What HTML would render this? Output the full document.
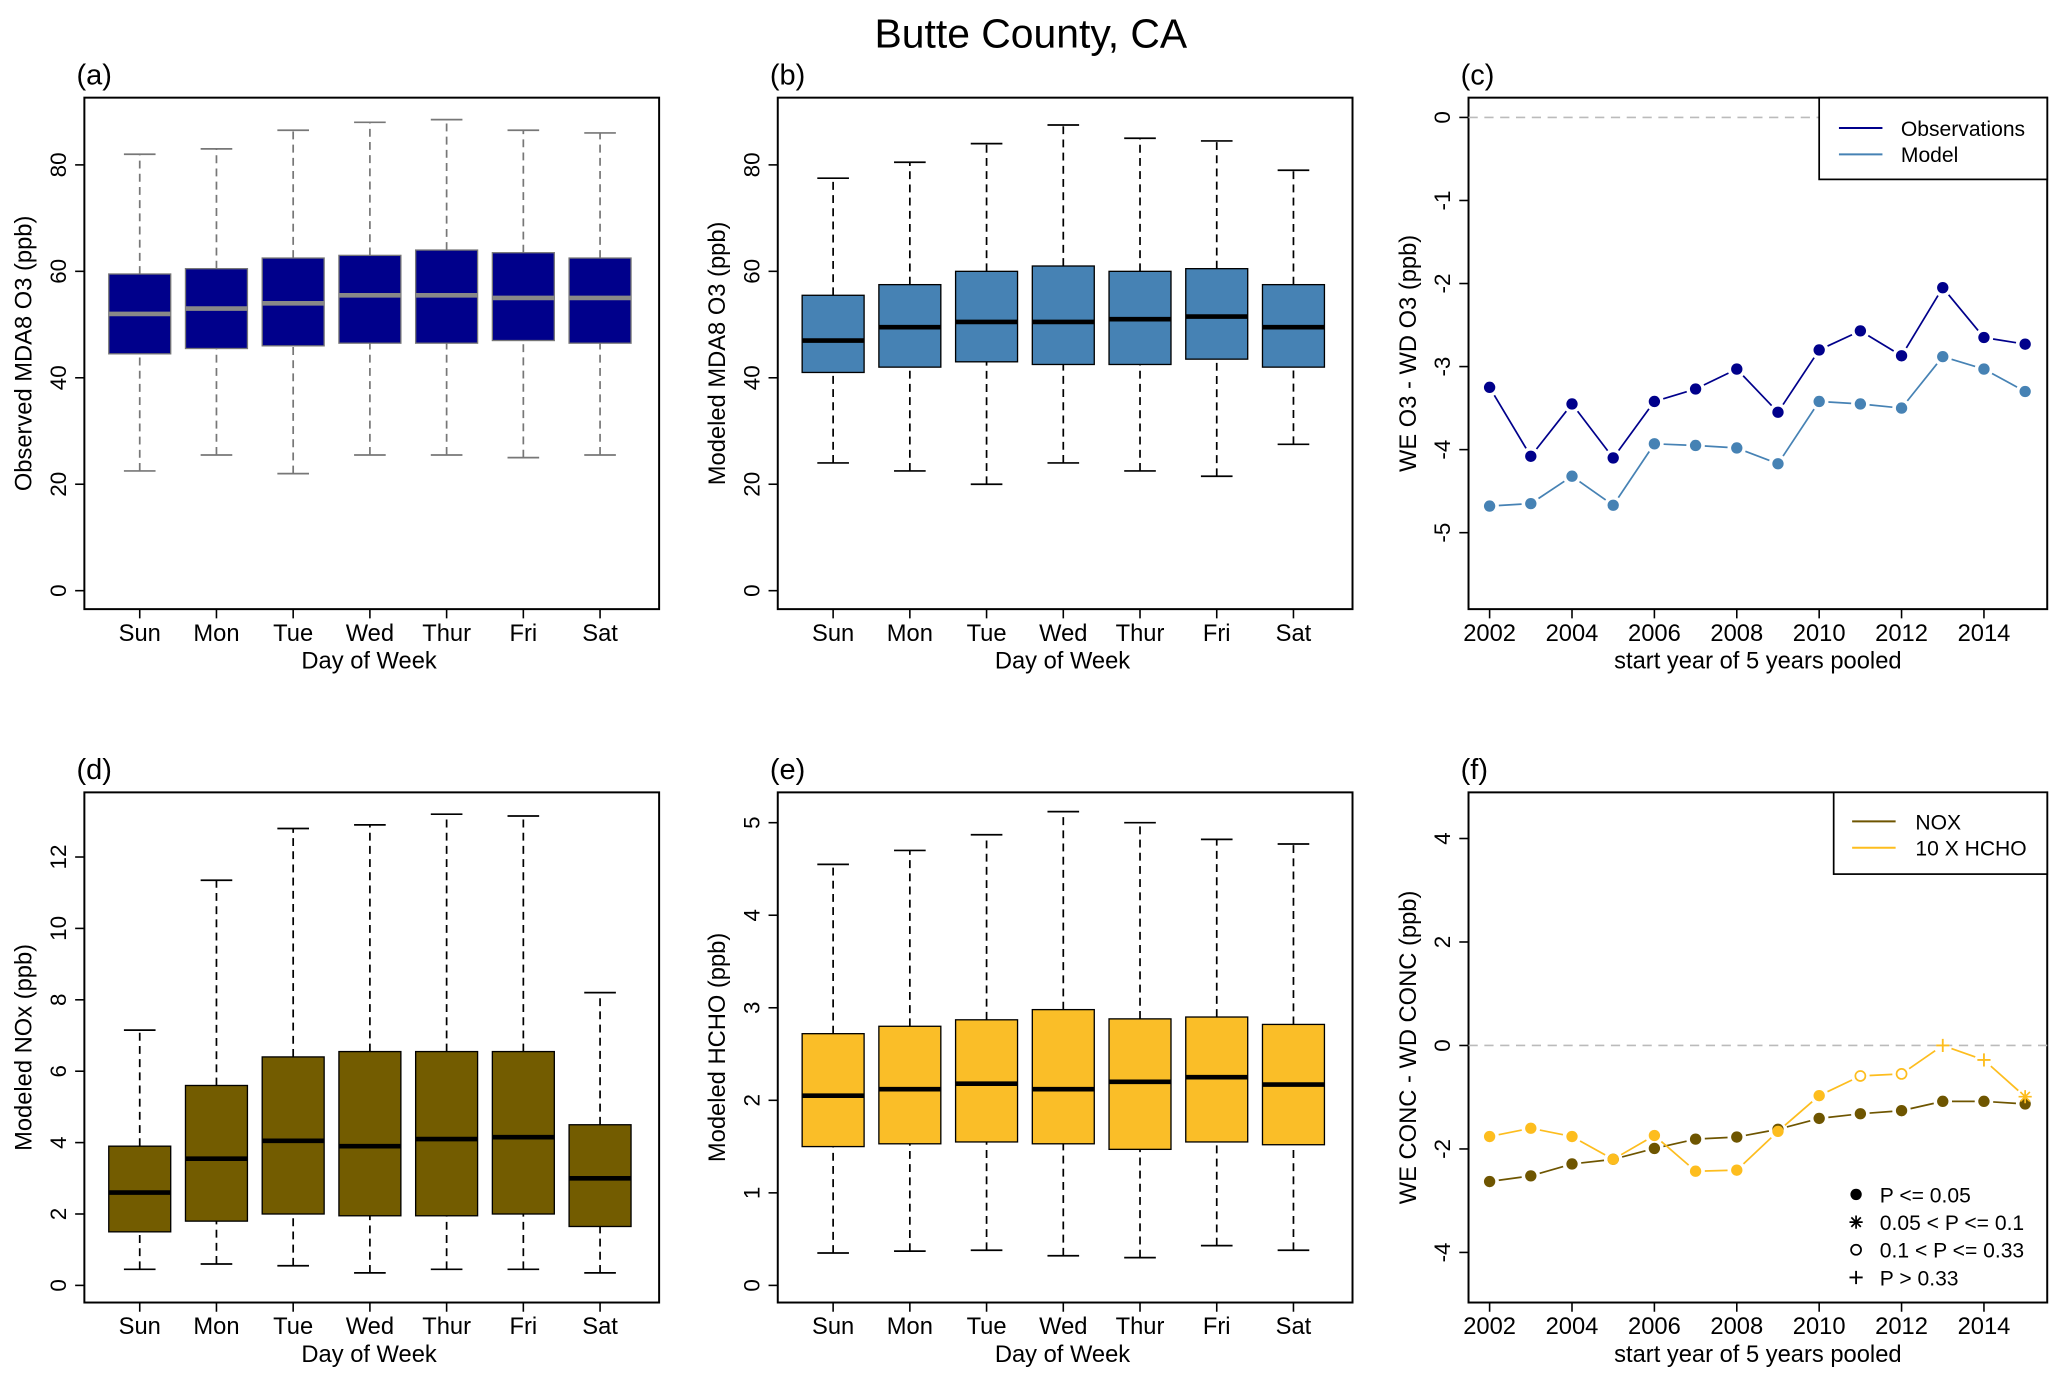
<!DOCTYPE html>
<html><head><meta charset="utf-8"><style>
html,body{margin:0;padding:0;background:#fff}
svg{display:block}
text{font-family:"Liberation Sans",Arial,sans-serif;fill:#000}
</style></head><body>
<svg id="fig" width="2067" height="1387" viewBox="0 0 1568 1052" xmlns="http://www.w3.org/2000/svg">
<text x="782" y="36" font-size="31" text-anchor="middle">Butte County, CA</text>
</svg>
<script>
const days = ["Sun","Mon","Tue","Wed","Thur","Fri","Sat"];
// [lo, q1, median, q3, hi]
const obsO3 = [[22.5,44.5,52,59.5,82],[25.5,45.5,53,60.5,83],[22,46,54,62.5,86.5],[25.5,46.5,55.5,63,88],[25.5,46.5,55.5,64,88.5],[25,47,55,63.5,86.5],[25.5,46.5,55,62.5,86]];
const modO3 = [[24,41,47,55.5,77.5],[22.5,42,49.5,57.5,80.5],[20,43,50.5,60,84],[24,42.5,50.5,61,87.5],[22.5,42.5,51,60,85],[21.5,43.5,51.5,60.5,84.5],[27.5,42,49.5,57.5,79]];
const modNOx = [[0.45,1.5,2.6,3.9,7.15],[0.6,1.8,3.55,5.6,11.35],[0.55,2.0,4.05,6.4,12.8],[0.35,1.95,3.9,6.55,12.9],[0.45,1.95,4.1,6.55,13.2],[0.45,2.0,4.15,6.55,13.15],[0.35,1.65,3.0,4.5,8.2]];
const modHCHO = [[0.35,1.5,2.05,2.72,4.55],[0.37,1.53,2.12,2.8,4.7],[0.38,1.55,2.18,2.87,4.87],[0.32,1.53,2.12,2.98,5.12],[0.3,1.47,2.2,2.88,5.0],[0.43,1.55,2.25,2.9,4.82],[0.38,1.52,2.17,2.82,4.77]];
const years = [2002,2003,2004,2005,2006,2007,2008,2009,2010,2011,2012,2013,2014,2015];
const obsDiff = [-3.25,-4.08,-3.45,-4.1,-3.42,-3.27,-3.03,-3.55,-2.8,-2.57,-2.87,-2.05,-2.65,-2.73];
const modelDiff = [-4.68,-4.65,-4.32,-4.67,-3.93,-3.95,-3.98,-4.17,-3.42,-3.45,-3.5,-2.88,-3.03,-3.3];
const noxDiff = [-2.63,-2.52,-2.29,-2.2,-1.99,-1.81,-1.77,-1.62,-1.41,-1.32,-1.26,-1.08,-1.08,-1.13];
const hchoDiff = [-1.76,-1.6,-1.76,-2.2,-1.74,-2.43,-2.41,-1.66,-0.97,-0.59,-0.55,0,-0.28,-0.99];
const hchoSig = ["p","p","p","p","p","p","p","p","p","o","o","+","+","*"];
const noxSig = ["p","p","p","p","p","p","p","p","p","p","p","p","p","p"];
const o3Ticks = [0,20,40,60,80];
const noxTicks = [0,2,4,6,8,10,12];
const hchoTicks = [0,1,2,3,4,5];
const cTicks = [0,-1,-2,-3,-4,-5];
const fTicks = [-4,-2,0,2,4];
const yearTicks = [2002,2004,2006,2008,2010,2012,2014];

const svg = document.getElementById('fig');
const NS = 'http://www.w3.org/2000/svg';
function mk(tag, attrs, parent){const e=document.createElementNS(NS,tag);for(const k in attrs)e.setAttribute(k,attrs[k]);(parent||svg).appendChild(e);return e;}
function txt(s, attrs, parent){const e=mk('text',attrs,parent);e.textContent=s;return e;}

function frame(x0,y0,x1,y1,label,name){
  const g=mk('g',{});
  
  
  const r=mk('rect',{x:x0,y:y0,width:x1-x0,height:y1-y0,fill:'none',stroke:'#000','stroke-width':1.5},g);
  
  
  const t=txt(label,{x:x0-6,y:y0-10,'font-size':22},g);
  
  
  return g;
}
function yAxis(g,x0,ticks,ys,title,titleX,midY){
  ticks.forEach(v=>{
    const y=ys(v);
    mk('line',{x1:x0,x2:x0-7,y1:y,y2:y,stroke:'#000','stroke-width':1.2},g);
    const t=txt(String(v).replace('-','-'),{x:x0-14,y:y,'font-size':17,'text-anchor':'middle',transform:`rotate(-90 ${x0-14} ${y})`},g);
    
    
  });
  const t=txt(title,{x:titleX,y:midY,'font-size':18,'text-anchor':'middle',transform:`rotate(-90 ${titleX} ${midY})`},g);
  
  
}
function boxPanel(x0,y0,x1,y1,label,data,ys,ticks,ytitle,fill,medCol,whCol,name){
  const g=frame(x0,y0,x1,y1,label,name);
  yAxis(g,x0,ticks,ys,ytitle,x0-40,(y0+y1)/2);
  const step=58.2, first=x0+42, hw=23.5;
  data.forEach((d,i)=>{
    const cx=first+i*step;
    const bg=mk('g',{},g);
    
    
    mk('line',{x1:cx,x2:cx,y1:ys(d[0]),y2:ys(d[1]),stroke:whCol,'stroke-width':1.3,'stroke-dasharray':'6,4'},bg);
    mk('line',{x1:cx,x2:cx,y1:ys(d[3]),y2:ys(d[4]),stroke:whCol,'stroke-width':1.3,'stroke-dasharray':'6,4'},bg);
    mk('line',{x1:cx-12,x2:cx+12,y1:ys(d[0]),y2:ys(d[0]),stroke:whCol,'stroke-width':1.3},bg);
    mk('line',{x1:cx-12,x2:cx+12,y1:ys(d[4]),y2:ys(d[4]),stroke:whCol,'stroke-width':1.3},bg);
    mk('rect',{x:cx-hw,y:ys(d[3]),width:2*hw,height:ys(d[1])-ys(d[3]),fill:fill,stroke:whCol==='#000'?'#000':'#777','stroke-width':1},bg);
    mk('line',{x1:cx-hw,x2:cx+hw,y1:ys(d[2]),y2:ys(d[2]),stroke:medCol,'stroke-width':3.5},bg);
    mk('line',{x1:cx,x2:cx,y1:y1,y2:y1+7,stroke:'#000','stroke-width':1.2},g);
    const t=txt(days[i],{x:cx,y:y1+24,'font-size':18,'text-anchor':'middle'},g);
    
    
  });
  const t=txt('Day of Week',{x:(x0+x1)/2-2,y:y1+45,'font-size':18,'text-anchor':'middle'},g);
  
  
}
const o3y = v=>448-v*4.0375;
boxPanel(64,74,500,462,'(a)',obsO3,o3y,o3Ticks,'Observed MDA8 O3 (ppb)','#00008B','#888','#777','panel-a-observed-o3');
boxPanel(590,74,1026,462,'(b)',modO3,o3y,o3Ticks,'Modeled MDA8 O3 (ppb)','#4682B4','#000','#000','panel-b-modeled-o3');
boxPanel(64,601,500,988,'(d)',modNOx,v=>975-v*27.08,noxTicks,'Modeled NOx (ppb)','#735C00','#000','#000','panel-d-modeled-nox');
boxPanel(590,601,1026,988,'(e)',modHCHO,v=>975-v*70.2,hchoTicks,'Modeled HCHO (ppb)','#FABE28','#000','#000','panel-e-modeled-hcho');

function marker(g,x,y,type,col){
  if(type==='p') mk('circle',{cx:x,cy:y,r:4.3,fill:col},g);
  else if(type==='o'){mk('circle',{cx:x,cy:y,r:4.5,fill:'#fff'},g);mk('circle',{cx:x,cy:y,r:3.8,fill:'#fff',stroke:col,'stroke-width':1.3},g);}
  else if(type==='+'){mk('rect',{x:x-5,y:y-5,width:10,height:10,fill:'#fff'},g);mk('path',{d:`M${x-5} ${y}H${x+5}M${x} ${y-5}V${y+5}`,stroke:col,'stroke-width':1.4},g);}
  else {mk('path',{d:`M${x-5} ${y}H${x+5}M${x} ${y-5}V${y+5}M${x-3.6} ${y-3.6}L${x+3.6} ${y+3.6}M${x-3.6} ${y+3.6}L${x+3.6} ${y-3.6}`,stroke:col,'stroke-width':1.3},g);}
}
function series(g,xs,ys,vals,sig,col,name){
  const sg=mk('g',{},g);
  
  
  for(let i=0;i<vals.length-1;i++){
    const xa=xs(years[i]),ya=ys(vals[i]),xb=xs(years[i+1]),yb=ys(vals[i+1]);
    const dx=xb-xa,dy=yb-ya,L=Math.hypot(dx,dy),g2=7;
    if(L>2*g2) mk('line',{x1:xa+dx*g2/L,y1:ya+dy*g2/L,x2:xb-dx*g2/L,y2:yb-dy*g2/L,stroke:col,'stroke-width':1.3},sg);
  }
  vals.forEach((v,i)=>marker(sg,xs(years[i]),ys(v),sig[i],col));
}
function linePanel(x0,y0,x1,y1,label,ys,ticks,ytitle,name){
  const g=frame(x0,y0,x1,y1,label,name);
  yAxis(g,x0,ticks,ys,ytitle,x0-40,(y0+y1)/2);
  const xs=yr=>1130+(yr-2002)*31.25;
  yearTicks.forEach(yr=>{
    mk('line',{x1:xs(yr),x2:xs(yr),y1:y1,y2:y1+7,stroke:'#000','stroke-width':1.2},g);
    const t=txt(String(yr),{x:xs(yr),y:y1+24,'font-size':18,'text-anchor':'middle'},g);
    
    
  });
  const t=txt('start year of 5 years pooled',{x:(x0+x1)/2,y:y1+45,'font-size':18,'text-anchor':'middle'},g);
  
  
  const z=mk('line',{x1:x0,x2:x1,y1:ys(0),y2:ys(0),stroke:'#bbb','stroke-width':1.2,'stroke-dasharray':'7,5'},g);
  
  
  return {g,xs};
}
// panel c
const cy = v=>89-v*63;
const pc=linePanel(1114,74,1553,462,'(c)',cy,cTicks,'WE O3 - WD O3 (ppb)','panel-c-o3-difference');
series(pc.g,pc.xs,cy,obsDiff,noxSig,'#00008B','series-observations');
series(pc.g,pc.xs,cy,modelDiff,noxSig,'#4682B4','series-model');
{const lg=mk('g',{},pc.g);
 
 
 mk('rect',{x:1380,y:74,width:173,height:62,fill:'#fff',stroke:'#000','stroke-width':1.3},lg);
 mk('line',{x1:1395,x2:1428,y1:97,y2:97,stroke:'#00008B','stroke-width':1.5},lg);
 mk('line',{x1:1395,x2:1428,y1:117,y2:117,stroke:'#4682B4','stroke-width':1.5},lg);
 txt('Observations',{x:1442,y:103,'font-size':16},lg);
 txt('Model',{x:1442,y:123,'font-size':16},lg);}
// panel f
const fy = v=>793-v*39.25;
const pf=linePanel(1114,601,1553,988,'(f)',fy,fTicks,'WE CONC - WD CONC (ppb)','panel-f-conc-difference');
series(pf.g,pf.xs,fy,noxDiff,noxSig,'#6E5500','series-nox');
series(pf.g,pf.xs,fy,hchoDiff,hchoSig,'#FDBD1E','series-10x-hcho');
{const lg=mk('g',{},pf.g);
 
 
 mk('rect',{x:1391,y:601,width:162,height:62,fill:'#fff',stroke:'#000','stroke-width':1.3},lg);
 mk('line',{x1:1405,x2:1438,y1:623,y2:623,stroke:'#6E5500','stroke-width':1.5},lg);
 mk('line',{x1:1405,x2:1438,y1:643,y2:643,stroke:'#FDBD1E','stroke-width':1.5},lg);
 txt('NOX',{x:1453,y:629,'font-size':16},lg);
 txt('10 X HCHO',{x:1453,y:649,'font-size':16},lg);
 const sg=mk('g',{},pf.g);
 
 
 const labs=['P <= 0.05','0.05 < P <= 0.1','0.1 < P <= 0.33','P > 0.33'],typ=['p','*','o','+'];
 labs.forEach((l,i)=>{marker(sg,1408,906+i*21,typ[i],'#000');txt(l,{x:1426,y:912+i*21,'font-size':16},sg);});}
</script>
</body></html>
